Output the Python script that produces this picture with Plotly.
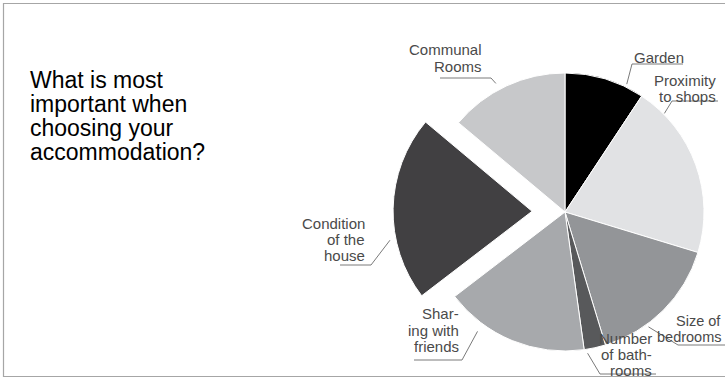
import math
import plotly.graph_objects as go

# Survey answers: share of respondents per factor (percent)
categories = ["Garden", "Proximity to shops", "Size of bedrooms", "Number of bathrooms",
              "Sharing with friends", "Condition of the house", "Communal Rooms"]
shares = [9.3, 20.4, 15.6, 2.5, 16.8, 21.5, 13.9]
label_lines = [["Garden"], ["Proximity", "to shops"], ["Size of", "bedrooms"],
               ["Number", "of bath-", "rooms"], ["Shar-", "ing with", "friends"],
               ["Condition", "of the", "house"], ["Communal", "Rooms"]]
title_lines = ["What is most", "important when", "choosing your", "accommodation?"]
exploded_category = "Condition of the house"

slice_colors = ["#000000", "#e1e2e4", "#939598", "#58595b", "#a7a9ac", "#414042", "#c7c8ca"]

W, H = 725, 378
CX, CY, R = 565, 212, 139       # pie centre and radius in pixels
PULL = 0.237                    # offset of the exploded slice, fraction of radius
FONT = "Liberation Sans, Arial, sans-serif"
LABEL_COLOR = "#4a4a4a"
LEADER_COLOR = "#7a7a7a"

# label placement: text anchor, line centres, underline and leader tip
label_layout = {
    "Garden":                 dict(x=632, anchor="left",   ys=[57],           under=(632, 683, 64), elbow=632, frac=0.77, tip_r=142),
    "Proximity to shops":     dict(x=718, anchor="right",  ys=[80, 96],       under=(672, 718, 101), elbow=672, frac=0.16, tip_r=140),
    "Size of bedrooms":       dict(x=723, anchor="right",  ys=[321, 337],     under=(678, 725, 345), elbow=678, frac=0.66, tip_r=142, size=14.5),
    "Number of bathrooms":    dict(x=654, anchor="right",  ys=[338, 354, 370], under=(600, 656, 374), elbow=600, frac=0.87, tip_r=143),
    "Sharing with friends":   dict(x=461, anchor="right",  ys=[313, 330, 346], under=(414, 462, 360), elbow=462, frac=0.73, tip_r=148),
    "Condition of the house": dict(x=367, anchor="right",  ys=[223, 239, 255], under=(340, 371, 265), elbow=371, frac=0.335, tip_r=145),
    "Communal Rooms":         dict(x=484, anchor="right",  ys=[49, 66],       under=(440, 491, 78), elbow=491, frac=0.435, tip_r=146),
}


def px(x):
    return x / W


def py(y):
    return 1 - y / H


# slice angles (degrees clockwise from 12 o'clock)
total = sum(shares)
starts, spans = [], []
acc = 0.0
for v in shares:
    starts.append(acc / total * 360)
    spans.append(v / total * 360)
    acc += v

ex_idx = categories.index(exploded_category)
mid = math.radians(starts[ex_idx] + spans[ex_idx] / 2)
off_x = PULL * R * math.sin(mid)
off_y = -PULL * R * math.cos(mid)

base_dom_x = [px(CX - R), px(CX + R)]
base_dom_y = [py(CY + R), py(CY - R)]

clear = "rgba(0,0,0,0)"
main_colors = [clear if i == ex_idx else c for i, c in enumerate(slice_colors)]
main_widths = [0 if i == ex_idx else 1 for i in range(len(shares))]
ex_colors = [slice_colors[i] if i == ex_idx else clear for i in range(len(shares))]
ex_widths = [1 if i == ex_idx else 0 for i in range(len(shares))]

fig = go.Figure()
fig.add_trace(go.Pie(
    labels=categories, values=shares, sort=False, direction="clockwise", rotation=0,
    marker=dict(colors=main_colors, line=dict(color="#ffffff", width=main_widths)),
    textinfo="none", hoverinfo="label+percent",
    domain=dict(x=base_dom_x, y=base_dom_y),
))
fig.add_trace(go.Pie(
    labels=categories, values=shares, sort=False, direction="clockwise", rotation=0,
    marker=dict(colors=ex_colors, line=dict(color="#ffffff", width=ex_widths)),
    textinfo="none", hoverinfo="skip",
    domain=dict(x=[d + off_x / W for d in base_dom_x], y=[d - off_y / H for d in base_dom_y]),
))

annotations = []
shapes = []

# chart frame
shapes.append(dict(type="rect", xref="paper", yref="paper",
                   x0=px(3.5), x1=px(760), y0=py(376.5), y1=py(3.5),
                   line=dict(color="#a6a6a6", width=1.2), layer="below"))

# title block
for i, line in enumerate(title_lines):
    annotations.append(dict(text=line, xref="paper", yref="paper", x=px(28), y=py(80 + 24 * i),
                            xanchor="left", yanchor="middle", showarrow=False,
                            font=dict(family=FONT, size=23, color="#000000")))

# slice labels with underline + leader line
for i, cat in enumerate(categories):
    lay = label_layout[cat]
    for line, yc in zip(label_lines[i], lay["ys"]):
        annotations.append(dict(text=line, xref="paper", yref="paper", x=px(lay["x"]), y=py(yc),
                                xanchor=lay["anchor"], yanchor="middle", showarrow=False,
                                align=lay["anchor"],
                                font=dict(family=FONT, size=lay.get("size", 15), color=LABEL_COLOR)))
    ang = math.radians(starts[i] + lay["frac"] * spans[i])
    cx, cy = (CX + off_x, CY + off_y) if i == ex_idx else (CX, CY)
    tx = cx + lay["tip_r"] * math.sin(ang)
    ty = cy - lay["tip_r"] * math.cos(ang)
    ux0, ux1, uy = lay["under"]
    shapes.append(dict(type="line", xref="paper", yref="paper",
                       x0=px(ux0), x1=px(ux1), y0=py(uy), y1=py(uy),
                       line=dict(color=LEADER_COLOR, width=1)))
    shapes.append(dict(type="line", xref="paper", yref="paper",
                       x0=px(lay["elbow"]), y0=py(uy), x1=px(tx), y1=py(ty),
                       line=dict(color=LEADER_COLOR, width=1)))

fig.update_layout(
    width=W, height=H, margin=dict(l=0, r=0, t=0, b=0),
    paper_bgcolor="#ffffff", plot_bgcolor="#ffffff",
    showlegend=False, annotations=annotations, shapes=shapes,
)

fig.write_html("out.html")
